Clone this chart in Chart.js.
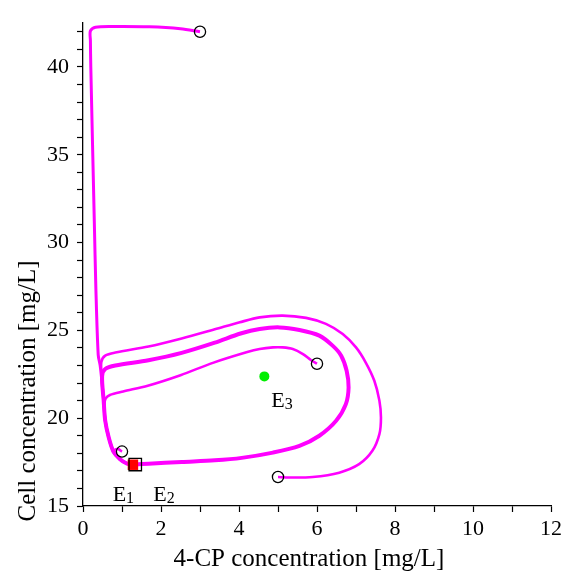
<!DOCTYPE html>
<html>
<head>
<meta charset="utf-8">
<title>4-CP phase portrait</title>
<script src="https://cdn.jsdelivr.net/npm/chart.js@4.4.1/dist/chart.umd.min.js"></script>
<style>
  html, body { margin: 0; padding: 0; background: #fff; }
  #plot { display: block; }
</style>
</head>
<body>
<canvas id="plot" width="566" height="573"></canvas>
<script>
// trajectories of the 4-CP / biomass model, all ending in E1
// start (3, 42): along the top, then down the left edge
const trajAx = [3.0, 2.5, 1.7, 0.8, 0.32, 0.19, 0.19, 0.2, 0.29, 0.33, 0.39, 0.44, 0.48, 0.53];
const trajAy = [42.0, 42.17, 42.28, 42.3, 42.26, 42.05, 41.5, 40.0, 31.2, 27.4, 23.6, 23.0, 22.2, 21.0];
// start (6, 23): inner curve
const trajBx = [6.0, 5.85, 5.64, 5.38, 5.12, 4.87, 4.53, 4.19, 3.33, 2.5, 1.66, 1.03, 0.69, 0.58, 0.55];
const trajBy = [23.1, 23.3, 23.65, 23.94, 24.03, 24.03, 23.94, 23.75, 23.15, 22.45, 21.85, 21.52, 21.32, 21.12, 20.8];
// start (5, 16.6): outer loop
const trajCx = [5.0, 5.29, 5.89, 6.57, 7.08, 7.42, 7.6, 7.64, 7.6, 7.47, 7.25, 7.0, 6.66, 6.23, 5.72, 5.12, 4.53, 4.02, 3.38, 2.53, 1.68, 0.83, 0.57, 0.47, 0.48, 0.53];
const trajCy = [16.65, 16.62, 16.65, 16.9, 17.38, 18.14, 19.09, 20.04, 21.0, 22.13, 23.17, 24.03, 24.79, 25.37, 25.71, 25.84, 25.74, 25.46, 25.06, 24.54, 24.08, 23.74, 23.56, 23.2, 22.4, 21.0];
// leaving E2 to the right and looping back (heavy line)
const trajDx = [1.34, 1.68, 2.53, 3.38, 4.07, 4.87, 5.55, 6.06, 6.49, 6.74, 6.81, 6.76, 6.62, 6.4, 6.06, 5.55, 5.04, 4.53, 4.04, 3.38, 2.53, 1.68, 0.83, 0.57, 0.49, 0.53];
const trajDy = [17.36, 17.41, 17.51, 17.6, 17.74, 18.04, 18.42, 19.0, 19.85, 20.8, 21.75, 22.7, 23.56, 24.13, 24.7, 25.02, 25.17, 25.08, 24.82, 24.3, 23.72, 23.3, 23.0, 22.8, 22.4, 21.0];
// start (1, 18): short hook into the common approach
const trajEx = [1.0, 0.9, 0.82, 0.79];
const trajEy = [18.1, 18.24, 18.2, 18.05];
// common approach down into E1
const tailX = [0.57, 0.66, 0.78, 0.95, 1.13, 1.28];
const tailY = [19.85, 18.9, 18.1, 17.66, 17.41, 17.35];

// initial conditions and equilibria
const startX = [3, 6, 5, 1];
const startY = [42.0, 23.1, 16.65, 18.1];
const e1 = [1.28, 17.35];
const e2 = [1.34, 17.36];
const e3 = [4.65, 22.38];

// equilibrium labels: name, subscript, anchor in data units
const eqNames = ['E', 'E', 'E'];
const eqSubs = ['1', '2', '3'];
const eqLabelX = [0.76, 1.8, 4.83];
const eqLabelY = [15.29, 15.29, 20.65];

const xTickVals = [0, 1, 2, 3, 4, 5, 6, 7, 8, 9, 10, 11, 12];
const yTickVals = [15, 16, 17, 18, 19, 20, 21, 22, 23, 24, 25, 26, 27, 28, 29, 30, 31, 32, 33, 34, 35, 36, 37, 38, 39, 40, 41, 42];

const xTitle = '4-CP concentration [mg/L]';
const yTitle = 'Cell concentration [mg/L]';

const SERIF = '"Liberation Serif", "DejaVu Serif", serif';
const MAGENTA = '#ff00ff';

function pts(xs, ys) { return xs.map((x, i) => ({ x, y: ys[i] })); }

function traj(xs, ys, width, tailFrom) {
  const p = pts(xs, ys).concat(pts(tailX, tailY).slice(tailFrom || 0));
  return { data: p, showLine: true, borderColor: MAGENTA, borderWidth: width, pointRadius: 0, tension: 0.3, fill: false };
}

// axis titles and E-labels with subscripts
const textPlugin = {
  id: 'textPlugin',
  afterDraw(chart) {
    const { ctx, chartArea, scales } = chart;
    ctx.save();
    ctx.fillStyle = '#000';
    ctx.textBaseline = 'alphabetic';
    eqNames.forEach((n, i) => {
      const px = scales.x.getPixelForValue(eqLabelX[i]);
      const py = scales.y.getPixelForValue(eqLabelY[i]);
      ctx.textAlign = 'left';
      ctx.font = '22px ' + SERIF;
      ctx.fillText(n, px, py);
      const w = ctx.measureText(n).width;
      ctx.font = '16px ' + SERIF;
      ctx.fillText(eqSubs[i], px + w, py + 2);
    });
    ctx.font = '25px ' + SERIF;
    ctx.textAlign = 'center';
    ctx.fillText(xTitle, (chartArea.left + chartArea.right) / 2 - 8, chartArea.bottom + 60);
    ctx.translate(35, chartArea.bottom - 115);
    ctx.rotate(-Math.PI / 2);
    ctx.fillText(yTitle, 0, 0);
    ctx.restore();
  }
};

const datasets = [
  // markers first so they sit on top of the curves
  { data: pts([e2[0]], [e2[1]]), pointStyle: 'rect', pointRadius: 8.8, backgroundColor: 'rgba(0,0,0,0)', borderColor: '#000', borderWidth: 1.3 },
  { data: pts([e1[0]], [e1[1]]), pointStyle: 'rect', pointRadius: 7.4, backgroundColor: '#ff0000', borderColor: '#ff0000', borderWidth: 0 },
  { data: pts([e3[0]], [e3[1]]), pointStyle: 'circle', pointRadius: 5, backgroundColor: '#00ee00', borderColor: '#00ee00', borderWidth: 0 },
  { data: pts(startX, startY), pointStyle: 'circle', pointRadius: 5.6, backgroundColor: 'rgba(0,0,0,0)', borderColor: '#000', borderWidth: 1.3 },
  traj(trajAx, trajAy, 3),
  traj(trajBx, trajBy, 2.6),
  traj(trajCx, trajCy, 2.6),
  traj(trajDx, trajDy, 4),
  traj(trajEx, trajEy, 2.6, 3)
];

const tickFont = { family: SERIF, size: 22 };

new Chart(document.getElementById('plot'), {
  type: 'scatter',
  data: { datasets },
  options: {
    responsive: false,
    animation: false,
    events: [],
    layout: { padding: { top: 23, right: 14, left: 0, bottom: 0 } },
    plugins: { legend: { display: false }, tooltip: { enabled: false } },
    scales: {
      x: {
        type: 'linear', min: 0, max: 12,
        afterBuildTicks: s => { s.ticks = xTickVals.map(v => ({ value: v })); },
        afterFit: s => { s.height = 67; },
        border: { color: '#000', width: 1.3 },
        grid: { drawOnChartArea: false, drawTicks: true, tickLength: 6, tickColor: '#000', tickWidth: 1.2 },
        ticks: { color: '#000', font: tickFont, padding: 4, maxRotation: 0, autoSkip: false,
          callback: v => (v % 2 === 0 ? String(v) : '') }
      },
      y: {
        type: 'linear', min: 15, max: 42.5,
        afterBuildTicks: s => { s.ticks = yTickVals.map(v => ({ value: v })); },
        afterFit: s => { s.width = 83; },
        border: { color: '#000', width: 1.3 },
        grid: { drawOnChartArea: false, drawTicks: true, tickLength: 6, tickColor: '#000', tickWidth: 1.2 },
        ticks: { color: '#000', font: tickFont, padding: 8, autoSkip: false,
          callback: v => (v % 5 === 0 ? String(v) : '') }
      }
    }
  },
  plugins: [textPlugin]
});
</script>
</body>
</html>
